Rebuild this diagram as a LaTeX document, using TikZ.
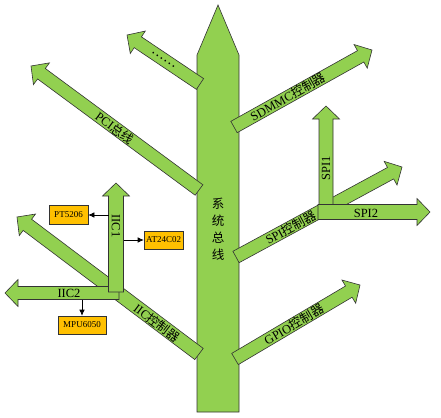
\documentclass[tikz,border=0pt]{standalone}
\usepackage{fontspec}
\setmainfont{Liberation Serif}
\newfontfamily\cjk{Noto Sans CJK SC}
\usetikzlibrary{calc,arrows.meta}

\definecolor{busgreen}{RGB}{146,208,80}
\definecolor{chiporange}{RGB}{255,192,0}

\tikzset{
  bus/.style={draw=black!80, fill=busgreen, line width=0.6pt, line join=miter},
  buslabel/.style={font=\fontsize{12.5}{14}\selectfont, inner sep=0pt},
  chip/.style={draw=black!80, fill=chiporange, line width=0.6pt, inner sep=1pt,
    minimum width=39pt, minimum height=19pt, font=\fontsize{9}{10}\selectfont},
}

% one bus branch: name, base, tip, half width of the body
\newcommand{\branch}[4]{%
  \coordinate (#1-base) at #2;
  \coordinate (#1-tip) at #3;
  \path let \p1=($(#1-tip)-(#1-base)$) in
    \pgfextra{\pgfmathsetmacro\brA{atan2(\y1,\x1)}\pgfmathsetmacro\brL{veclen(\x1,\y1)}%
      \xdef\brA{\brA}\xdef\brL{\brL}};
  \begin{scope}[shift={(#1-base)}, rotate=\brA]
    \draw[bus] (0,-#4) -- ({\brL-13},-#4) -- ({\brL-13},-13.5) -- (\brL,0)
      -- ({\brL-13},13.5) -- ({\brL-13},#4) -- (0,#4) -- cycle;
  \end{scope}
}

\begin{document}
\begin{tikzpicture}[x=1pt, y=-1pt]
  \tikzset{>={Latex[length=6pt,width=5.5pt]}}
  \useasboundingbox (0,0) rectangle (441,417);

  % system bus
  \draw[bus] (197,412) -- (197,55) -- (218,5) -- (239,55) -- (239,412) -- cycle;
  \node[buslabel, font=\cjk\fontsize{12.5}{17}\selectfont, align=center] (sysbus) at (218,229)
    {系\\统\\总\\线};

  % branches on the left
  \branch{dots}{(200,84)}{(127,35)}{6.5}
  \path (dots-base) -- (dots-tip) node[buslabel, sloped, pos=0.5, font=\cjk\fontsize{13}{14}\selectfont] (dots-label) {……};
  \branch{pci}{(199,190)}{(31,66)}{6.5}
  \path (pci-base) -- (pci-tip) node[buslabel, sloped, pos=0.5] (pci-label) {PCI{\cjk 总线}};

  % branches on the right
  \branch{sdmmc}{(234,127)}{(372,50)}{6.5}
  \path (sdmmc-base) -- (sdmmc-tip) node[buslabel, sloped, pos=0.39] (sdmmc-label) {SDMMC{\cjk 控制器}};
  \branch{gpio}{(235,359)}{(360,285)}{6.5}
  \path (gpio-base) -- (gpio-tip) node[buslabel, sloped, pos=0.47] (gpio-label) {GPIO{\cjk 控制器}};

  % SPI controller
  \branch{spi}{(236,257)}{(402,167)}{6.5}
  \path (spi-base) -- (spi-tip) node[buslabel, sloped, pos=0.33] (spi-label) {SPI{\cjk 控制器}};
  \branch{spi1}{(326,206)}{(326,106)}{7}
  \node[buslabel, rotate=90] (spi1-label) at (326,168) {SPI1};
  \branch{spi2}{(318,212)}{(430,212)}{7.5}
  \node[buslabel] (spi2-label) at (366,213) {SPI2};

  % IIC controller
  \branch{iic}{(199,354)}{(17,217)}{7}
  \path (iic-base) -- (iic-tip) node[buslabel, sloped, pos=0.23] (iic-label) {IIC{\cjk 控制器}};
  \branch{iic2}{(119,293)}{(5,293)}{6.5}
  \node[buslabel] (iic2-label) at (69,293) {IIC2};
  \branch{iic1}{(116,292)}{(116,183)}{7.5}
  \node[buslabel, rotate=-90] (iic1-label) at (116,226) {IIC1};

  % devices
  \node[chip] (pt5206) at (68.5,215) {PT5206};
  \node[chip, minimum height=18pt] (at24c02) at (163.5,240) {AT24C02};
  \node[chip, minimum width=48pt, minimum height=18pt] (mpu6050) at (82,325) {MPU6050};
  \coordinate (iic1-w) at (108.5,215);
  \coordinate (iic1-e) at (123.5,240);
  \coordinate (iic2-s) at (82,299.5);
  \draw[->, line width=0.6pt] (iic1-w) -- (pt5206.east);
  \draw[->, line width=0.6pt] (iic1-e) -- (at24c02.west);
  \draw[->, line width=0.6pt] (iic2-s) -- (mpu6050.north);
\end{tikzpicture}
\end{document}
